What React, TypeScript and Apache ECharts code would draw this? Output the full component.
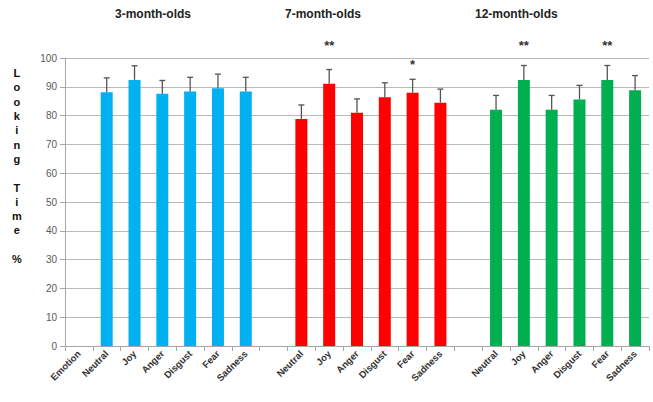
import React, { useEffect, useRef } from "react";
import * as echarts from "echarts";

const emotions = ["Neutral", "Joy", "Anger", "Disgust", "Fear", "Sadness"];
const groupTitles = ["3-month-olds", "7-month-olds", "12-month-olds"];
const means3 = [88.1, 92.4, 87.6, 88.4, 89.5, 88.4];
const errs3 = [5.0, 4.9, 4.6, 4.9, 4.9, 4.9];
const means7 = [78.8, 91.1, 81.0, 86.4, 87.9, 84.5];
const errs7 = [4.9, 4.9, 4.8, 5.0, 4.7, 4.7];
const means12 = [82.0, 92.4, 82.0, 85.6, 92.4, 88.8];
const errs12 = [5.0, 5.0, 5.0, 4.9, 5.0, 5.1];
const colors = ["#00B0F0", "#FF0000", "#00B050"];
// significance marks: [group, emotion index, label, y]
const sigMarks: [number, number, string, number][] = [
  [1, 1, "**", 104.2],
  [1, 4, "*", 97.8],
  [2, 1, "**", 104.2],
  [2, 4, "**", 104.2],
];

const categories: string[] = ["Emotion"];
const groupStart: number[] = [];
for (let g = 0; g < 3; g++) {
  if (g > 0) categories.push("");
  groupStart.push(categories.length);
  emotions.forEach((e) => categories.push(e));
}

const allMeans = [means3, means7, means12];
const allErrs = [errs3, errs7, errs12];

export default function App() {
  const ref = useRef<HTMLDivElement>(null);
  useEffect(() => {
    if (!ref.current) return;
    const chart = echarts.init(ref.current, null, { renderer: "svg" });

    const barSeries = allMeans.map((m, g) => {
      const data: (number | null)[] = categories.map(() => null);
      m.forEach((v, i) => (data[groupStart[g] + i] = v));
      return {
        type: "bar",
        data,
        barWidth: 12,
        barGap: "-100%",
        itemStyle: { color: colors[g] },
      };
    });

    const errData: number[][] = [];
    allMeans.forEach((m, g) =>
      m.forEach((v, i) => errData.push([groupStart[g] + i, v, v + allErrs[g][i]]))
    );

    const starData = sigMarks.map(([g, i, lab, y]) => [groupStart[g] + i, y, lab]);

    const font = "'Liberation Sans', Arial, sans-serif";

    chart.setOption({
      animation: false,
      grid: { left: 65, right: 4, top: 58, bottom: 56 },
      xAxis: {
        type: "category",
        data: categories,
        axisLine: { lineStyle: { color: "#a6a6a6" } },
        axisTick: { show: true, interval: 0, length: 5, lineStyle: { color: "#a6a6a6" } },
        axisLabel: {
          interval: 0,
          rotate: 45,
          fontSize: 9.5,
          fontWeight: "bold",
          color: "#333",
          fontFamily: font,
          margin: 6,
        },
      },
      yAxis: {
        type: "value",
        min: 0,
        max: 100,
        interval: 10,
        axisLine: { show: true, lineStyle: { color: "#a6a6a6" } },
        axisTick: { show: true, length: 5, lineStyle: { color: "#a6a6a6" } },
        splitLine: { lineStyle: { color: "#b8b8b8" } },
        axisLabel: { fontSize: 10, color: "#595959", fontFamily: font, margin: 8 },
      },
      series: [
        ...barSeries,
        {
          type: "custom",
          data: errData,
          z: 5,
          renderItem: (params: any, api: any) => {
            const x = api.value(0);
            const p0 = api.coord([x, api.value(1)]);
            const p1 = api.coord([x, api.value(2)]);
            const style = { stroke: "#555", lineWidth: 1.3 };
            return {
              type: "group",
              children: [
                { type: "line", shape: { x1: p0[0], y1: p0[1], x2: p1[0], y2: p1[1] }, style },
                { type: "line", shape: { x1: p1[0] - 3, y1: p1[1], x2: p1[0] + 3, y2: p1[1] }, style },
              ],
            };
          },
        },
        {
          type: "custom",
          data: starData,
          clip: false,
          renderItem: (params: any, api: any) => {
            const p = api.coord([api.value(0), api.value(1)]);
            return {
              type: "text",
              x: p[0],
              y: p[1],
              style: {
                text: starData[params.dataIndex][2],
                fontSize: 13,
                fontWeight: "bold",
                fill: "#333",
                fontFamily: font,
                textAlign: "center",
                textVerticalAlign: "middle",
              },
            };
          },
        },
      ],
      graphic: [
        ...groupTitles.map((t, g) => ({
          type: "text",
          left: [155, 325, 515][g] - 40,
          top: 8,
          style: {
            text: t,
            fontSize: 12,
            fontWeight: "bold",
            fill: "#222",
            fontFamily: font,
          },
        })),
        {
          type: "text",
          left: 12,
          top: 66,
          style: {
            text: "L\no\no\nk\ni\nn\ng\n\nT\ni\nm\ne\n\n%",
            fontSize: 11,
            lineHeight: 14.3,
            fontWeight: "bold",
            fill: "#111",
            fontFamily: font,
            textAlign: "center",
          },
        },
      ],
    });
    return () => chart.dispose();
  }, []);
  return <div ref={ref} style={{ width: 653, height: 402, position: "absolute", left: 0, top: 0 }} />;
}
